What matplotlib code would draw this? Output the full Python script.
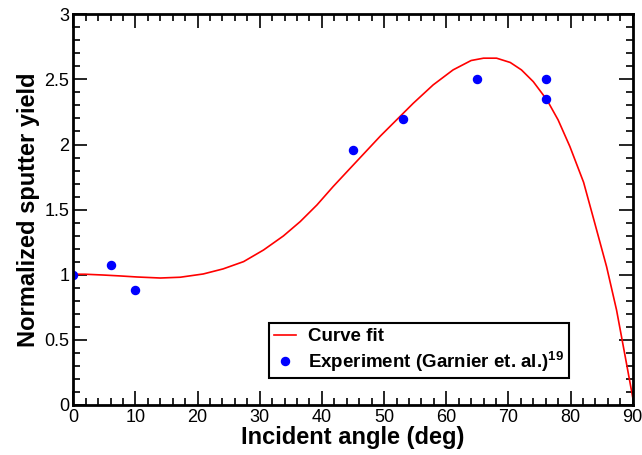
import numpy as np
import matplotlib
matplotlib.use("Agg")
import matplotlib.pyplot as plt
from matplotlib.ticker import MultipleLocator, FormatStrFormatter

plt.rcParams['font.family'] = ['Liberation Sans', 'DejaVu Sans']
plt.rcParams['mathtext.fontset'] = 'custom'
plt.rcParams['mathtext.rm'] = 'Liberation Sans'
plt.rcParams['mathtext.bf'] = 'Liberation Sans:bold'

# curve fit
fit_angle = [0, 1.9, 4.8, 7.5, 10.2, 14.0, 17.2, 20.9, 24.1, 27.4, 30.6, 33.8,
             36.5, 39.2, 41.8, 44.4, 49.4, 54.7, 57.9, 61.1, 64.0, 66.0, 68.1, 70.3,
             72.1, 74.0, 76.2, 78.0, 79.9, 82.1, 83.9, 85.8, 87.4, 88.8, 90.0]
fit_yield = [1.004, 1.004, 0.998, 0.991, 0.983, 0.975, 0.981, 1.006, 1.045, 1.101,
             1.19, 1.298, 1.408, 1.536, 1.677, 1.81, 2.065, 2.317, 2.458, 2.573, 2.645,
             2.663, 2.663, 2.63, 2.573, 2.483, 2.343, 2.189, 1.984, 1.71, 1.396,
             1.062, 0.73, 0.371, 0.06]

# experiment (Garnier et al.)
exp_angle = [0, 6, 10, 45, 53, 65, 76, 76]
exp_yield = [1.0, 1.075, 0.88, 1.96, 2.195, 2.5, 2.5, 2.35]

fig = plt.figure(figsize=(6.42, 4.55), dpi=100)
ax = fig.add_axes([0.1142, 0.1099, 0.8713, 0.8587])

ax.plot(fit_angle, fit_yield, color='red', lw=1.2, label='Curve fit')
ax.plot(exp_angle, exp_yield, 'o', color='blue', ms=5.8, mec='blue',
        label='Experiment (Garnier et. al.)$^{\\mathbf{19}}$')

ax.set_xlim(0, 90)
ax.set_ylim(0, 3)
ax.xaxis.set_major_locator(MultipleLocator(10))
ax.xaxis.set_minor_locator(MultipleLocator(2))
ax.yaxis.set_major_locator(MultipleLocator(0.5))
ax.yaxis.set_minor_locator(MultipleLocator(0.1))
ax.yaxis.set_major_formatter(FormatStrFormatter('%g'))
ax.tick_params(which='both', direction='in', top=True, right=True, labelsize=13, width=1.2)
ax.tick_params(which='major', length=10, pad=3)
ax.tick_params(which='minor', length=5)
for s in ax.spines.values():
    s.set_linewidth(2)

ax.set_xlabel('Incident angle (deg)', fontsize=17, fontweight='bold', labelpad=0)
ax.set_ylabel('Normalized sputter yield', fontsize=17, fontweight='bold', labelpad=3)

leg = ax.legend(loc='lower left', bbox_to_anchor=(0.35, 0.068, 0.537, 0.143),
                mode='expand', fancybox=False, edgecolor='black', framealpha=1,
                prop={'weight': 'bold', 'size': 13.5}, handlelength=1.2,
                handletextpad=0.65, borderaxespad=0, labelspacing=0.2, borderpad=0.25)
leg.get_frame().set_linewidth(1.5)

fig.savefig('out.png', dpi=100)
